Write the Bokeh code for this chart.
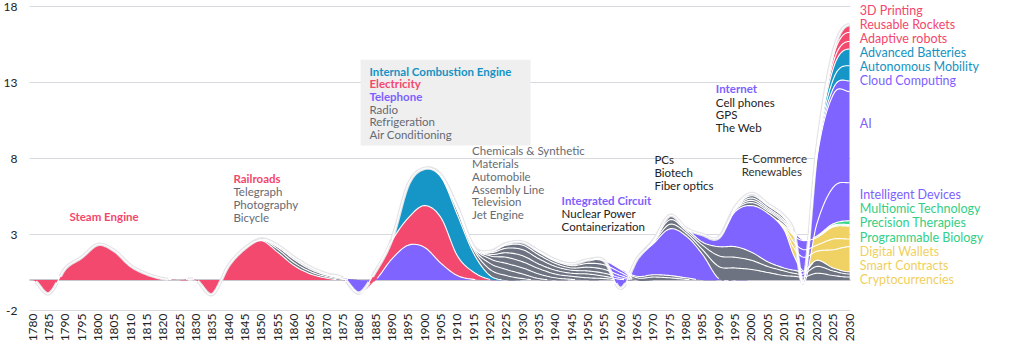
import math
import numpy as np
from bokeh.plotting import figure
from bokeh.models import Label, BoxAnnotation, Range1d
from bokeh.embed import file_html
from bokeh.resources import INLINE

# ---------------- data ----------------
YEARS = list(range(1780, 2011, 5)) + [2013, 2016, 2020, 2025, 2030]
X_TICKS = list(range(1780, 2031, 5))
Y_TICKS = [-2, 3, 8, 13, 18]

PINK, BLUE, PURPLE, GRAY, YELLOW, GREEN = "#f4496e", "#1596c7", "#8064ff", "#6e7382", "#f0d264", "#3cd78c"

steam_engine = {1785: -0.9, 1790: 0.76, 1795: 1.5, 1800: 2.34, 1805: 1.95, 1810: 0.96, 1815: 0.41, 1820: 0.1}
railroads = {1835: -0.95, 1840: 0.96, 1845: 2.1, 1850: 2.6, 1855: 1.84, 1860: 0.96, 1865: 0.41, 1870: 0.13}
telegraph = {1850: .05, 1855: .2, 1860: .2, 1865: .15, 1870: .1, 1875: .05}
photography = {1850: .03, 1855: .14, 1860: .2, 1865: .15, 1870: .1, 1875: .05}
bicycle = {1850: .02, 1855: .1, 1860: .14, 1865: .14, 1870: .08, 1875: .03}
telephone = {1880: -0.85, 1890: 1.4, 1895: 2.3, 1900: 2.15, 1905: 1.1, 1910: 0.3, 1915: 0.05}
electricity = {1885: 0.6, 1890: 1.2, 1895: 1.8, 1900: 2.75, 1905: 3.0, 1910: 1.3, 1915: 0.47, 1920: 0.05}
combustion_engine = {1890: 0.1, 1895: 2.2, 1900: 2.45, 1905: 2.7, 1910: 2.7, 1915: 1.23, 1920: 0.25}
radio = {1905: .05, 1910: .3, 1915: .25, 1920: .4, 1925: .3, 1930: .1}
refrigeration = {1905: .05, 1910: .15, 1915: .1, 1920: .4, 1925: .4, 1930: .3, 1935: .1}
air_conditioning = {1910: .05, 1915: .1, 1920: .3, 1925: .4, 1930: .4, 1935: .3, 1940: .15, 1945: .05}
chemicals = {1920: .2, 1925: .4, 1930: .4, 1935: .35, 1940: .25, 1945: .2, 1950: .15, 1955: .1}
materials = {1920: .1, 1925: .3, 1930: .4, 1935: .3, 1940: .25, 1945: .2, 1950: .25, 1955: .15, 1960: .05}
automobile = {1920: .1, 1925: .3, 1930: .4, 1935: .35, 1940: .25, 1945: .2, 1950: .2, 1955: .2, 1960: .1}
assembly_line = {1920: .1, 1925: .2, 1930: .3, 1935: .25, 1940: .2, 1945: .15, 1950: .25, 1955: .25, 1960: .15}
television = {1925: .1, 1930: .2, 1935: .2, 1940: .15, 1945: .15, 1950: .25, 1955: .3, 1960: .2}
jet_engine = {1935: .05, 1940: .08, 1945: .12, 1950: .23, 1955: .27, 1960: .2}
nuclear_power = {1965: .15, 1970: .2, 1975: .15, 1980: .05}
containerization = {1965: .1, 1970: .15, 1975: .15, 1980: .1}
integrated_circuit = {1960: -1.25, 1965: 1.15, 1970: 2.05, 1975: 3.07, 1980: 2.75, 1985: 1.7, 1990: 0.1}
pcs = {1970: .08, 1975: .3, 1980: .2, 1985: .3, 1990: .8, 1995: .8, 2000: .7, 2005: .5, 2010: .3, 2013: .25, 2016: .2, 2020: .45, 2025: .3, 2030: .2}
biotech = {1970: .07, 1975: .3, 1980: .15, 1985: .3, 1990: .7, 1995: .7, 2000: .6, 2005: .4, 2010: .3, 2013: .2, 2016: .2, 2020: .45, 2025: .3, 2030: .2}
fiber_optics = {1970: .05, 1975: .28, 1980: .15, 1985: .2, 1990: .6, 1995: .7, 2000: .54, 2005: .3, 2010: .2, 2013: .2, 2016: .2, 2020: .4, 2025: .2, 2030: .15}
internet = {1985: 0.5, 1990: 0.6, 1995: 2.3, 2000: 3.06, 2005: 3.2, 2010: 2.5, 2013: 0.95}
cryptocurrencies = {2010: .1, 2013: .5, 2016: .9, 2020: .6, 2025: 1.2, 2030: 1.65}
smart_contracts = {2010: .1, 2013: .4, 2016: .5, 2020: .4, 2025: .7, 2030: .5}
digital_wallets = {2010: .1, 2013: .4, 2016: .6, 2020: .5, 2025: .8, 2030: .85}
programmable_biology = {2020: .02, 2025: .05, 2030: .05}
precision_therapies = {2020: .03, 2025: .05, 2030: .05}
multiomic_technology = {2020: .05, 2025: .1, 2030: .25}
cell_phones = {1995: .1, 2000: .2, 2005: .15, 2010: .15, 2013: .05}
gps = {1995: .05, 2000: .15, 2005: .1, 2010: .1, 2013: .05}
the_web = {1995: .05, 2000: .15, 2005: .1, 2010: .1, 2013: .05}
e_commerce = {1995: .05, 2000: .15, 2005: .15, 2010: .15, 2013: .05}
renewables = {1995: .05, 2000: .15, 2005: .1, 2010: .1, 2013: .05}
intelligent_devices = {2016: -2.8, 2020: 0.8, 2025: 2.4, 2030: 2.5}
ai = {2020: 4.3, 2025: 6.1, 2030: 6.0}
cloud_computing = {2020: .2, 2025: .4, 2030: .7}
autonomous_mobility = {2016: .05, 2020: .1, 2025: .6, 2030: 1.0}
advanced_batteries = {2016: .1, 2020: .1, 2025: .7, 2030: 1.1}
adaptive_robots = {2020: .1, 2025: .4, 2030: .5}
reusable_rockets = {2020: .05, 2025: .4, 2030: .6}
printing_3d = {2020: .05, 2025: .3, 2030: .5}

# stacking order, bottom to top
STACK = [
    (steam_engine, PINK), (railroads, PINK), (telegraph, GRAY), (photography, GRAY), (bicycle, GRAY),
    (telephone, PURPLE), (electricity, PINK), (combustion_engine, BLUE),
    (radio, GRAY), (refrigeration, GRAY), (air_conditioning, GRAY),
    (chemicals, GRAY), (materials, GRAY), (automobile, GRAY), (assembly_line, GRAY), (television, GRAY), (jet_engine, GRAY),
    (nuclear_power, GRAY), (containerization, GRAY), (integrated_circuit, PURPLE),
    (pcs, GRAY), (biotech, GRAY), (fiber_optics, GRAY), (internet, PURPLE),
    (cryptocurrencies, YELLOW), (smart_contracts, YELLOW), (digital_wallets, YELLOW),
    (programmable_biology, GREEN), (precision_therapies, GREEN), (multiomic_technology, GREEN),
    (cell_phones, GRAY), (gps, GRAY), (the_web, GRAY), (e_commerce, GRAY), (renewables, GRAY),
    (intelligent_devices, PURPLE), (ai, PURPLE), (cloud_computing, PURPLE),
    (autonomous_mobility, BLUE), (advanced_batteries, BLUE),
    (adaptive_robots, PINK), (reusable_rockets, PINK), (printing_3d, PINK),
]

# right-hand labels (top to bottom) with colours
RIGHT_LABELS = [
    ("3D Printing", "#f4476c", 17.75), ("Reusable Rockets", "#f4476c", 16.83), ("Adaptive robots", "#f4476c", 15.9),
    ("Advanced Batteries", "#1593c4", 14.97), ("Autonomous Mobility", "#1593c4", 14.03),
    ("Cloud Computing", "#7d5fff", 13.1), ("AI", "#7d5fff", 10.3), ("Intelligent Devices", "#7d5fff", 5.62),
    ("Multiomic Technology", "#33cf86", 4.69), ("Precision Therapies", "#33cf86", 3.76), ("Programmable Biology", "#33cf86", 2.83),
    ("Digital Wallets", "#f0cf5e", 1.9), ("Smart Contracts", "#f0cf5e", 0.97), ("Cryptocurrencies", "#f0cf5e", 0.04),
]

# ---------------- helpers ----------------
def smooth(xg, yg, n=10):
    xg = np.asarray(xg, float); yg = np.asarray(yg, float)
    N = len(xg)
    m = np.zeros(N)
    for i in range(1, N - 1):
        m[i] = (yg[i + 1] - yg[i - 1]) / (xg[i + 1] - xg[i - 1])
    t = np.linspace(0, 1, n, endpoint=False)
    h00 = 2 * t**3 - 3 * t**2 + 1; h10 = t**3 - 2 * t**2 + t
    h01 = -2 * t**3 + 3 * t**2; h11 = t**3 - t**2
    xs, ys = [], []
    for i in range(N - 1):
        h = xg[i + 1] - xg[i]
        xs.append(xg[i] + t * h)
        ys.append(h00 * yg[i] + h10 * h * m[i] + h01 * yg[i + 1] + h11 * h * m[i + 1])
    xs.append([xg[-1]]); ys.append([yg[-1]])
    return np.concatenate(xs), np.concatenate(ys)

vals = np.array([[d.get(y, 0.0) for y in YEARS] for d, _ in STACK])
cum = np.vstack([np.zeros(len(YEARS)), np.cumsum(vals, axis=0)])
smooth_cum = []
for row in cum:
    sx, sy = smooth(YEARS, row)
    smooth_cum.append(sy)
SX = sx

# ---------------- figure ----------------
FONT = "Lato"
PX_PER_YEAR = 3.268
PX_PER_UNIT = 15.2
X0 = 1780 - 32 / PX_PER_YEAR
X1 = X0 + 1024 / PX_PER_YEAR
Y1 = 279.6 / PX_PER_UNIT            # value at the top edge of the page
Y0 = Y1 - 346 / PX_PER_UNIT         # value at the bottom edge of the page
GRID_START = 1780 - 3 / PX_PER_YEAR
p = figure(width=1024, height=346, x_range=Range1d(X0, X1), y_range=Range1d(Y0, Y1),
           output_backend="svg", toolbar_location=None, min_border=0)
p.outline_line_color = None
p.background_fill_color = "white"
p.border_fill_color = "white"
p.xgrid.grid_line_color = None
p.ygrid.grid_line_color = None
p.xaxis.visible = False
p.yaxis.visible = False

# horizontal grid lines, y tick labels and baseline
for yt in Y_TICKS:
    p.line([GRID_START, 2030.3], [yt, yt], line_color="#d9d9e0", line_width=1.2)
    p.add_layout(Label(x=1780 - 15 / PX_PER_YEAR, y=yt, text=str(yt), text_align="right", text_baseline="middle",
                       text_font=FONT, text_font_size="12px", text_color="#222222"))
p.line([GRID_START, 2030.3], [0, 0], line_color="#b4b4c0", line_width=1.5)

# x tick labels (vertical, reading upwards)
for xt in X_TICKS:
    p.add_layout(Label(x=xt, y=-2 - 3 / PX_PER_UNIT, text=str(xt), angle=math.pi / 2, text_align="right",
                       text_baseline="middle", text_font=FONT, text_font_size="12px", text_color="#222222"))

# areas
for i, (d, color) in enumerate(STACK):
    p.varea(x=SX, y1=smooth_cum[i], y2=smooth_cum[i + 1], fill_color=color)

# outer silhouette halo
top = smooth_cum[-1]
halo = np.where(np.abs(top) > 0.05, top, np.nan)
p.line(SX, halo, line_color="#e4e4e8", line_width=3.5)

# white separators
for i, (d, color) in enumerate(STACK):
    thick = smooth_cum[i + 1] - smooth_cum[i]
    yl = np.where(np.abs(thick) > 0.03, smooth_cum[i + 1], np.nan)
    p.line(SX, yl, line_color="white", line_width=1.1)

# ---------------- annotations ----------------
def lab(x, y, text, color, bold=False, size="11.5px"):
    p.add_layout(Label(x=x, y=y, text=text, text_color=color, text_font=FONT, text_font_size=size,
                       text_font_style="bold" if bold else "normal", text_baseline="middle", text_align="left"))

DARK, MID = "#222222", "#666a72"
lab(1791.3, 4.18, "Steam Engine", "#f4476c", True)
lab(1841.5, 6.68, "Railroads", "#f4476c", True)
for y, t in zip([5.83, 4.97, 4.12], ["Telegraph", "Photography", "Bicycle"]):
    lab(1841.5, y, t, MID)

p.add_layout(BoxAnnotation(left=1880.4, right=1932.4, bottom=8.86, top=14.49, fill_color="#efeff0", fill_alpha=1, line_color=None))
lab(1883.1, 13.74, "Internal Combustion Engine", "#1593c4", True)
lab(1883.1, 12.91, "Electricity", "#f4476c", True)
lab(1883.1, 12.08, "Telephone", "#7d5fff", True)
for y, t in zip([11.24, 10.41, 9.58], ["Radio", "Refrigeration", "Air Conditioning"]):
    lab(1883.1, y, t, MID)

for y, t in zip([8.53, 7.65, 6.82, 5.98, 5.15, 4.32],
                ["Chemicals & Synthetic", "Materials", "Automobile", "Assembly Line", "Television", "Jet Engine"]):
    lab(1914.5, y, t, MID)

lab(1941.9, 5.24, "Integrated Circuit", "#7d5fff", True)
lab(1941.9, 4.38, "Nuclear Power", DARK)
lab(1941.9, 3.53, "Containerization", DARK)

for y, t in zip([7.93, 7.08, 6.22], ["PCs", "Biotech", "Fiber optics"]):
    lab(1970.3, y, t, DARK)

lab(1989.1, 12.59, "Internet", "#7d5fff", True)
for y, t in zip([11.70, 10.89, 10.06], ["Cell phones", "GPS", "The Web"]):
    lab(1989.1, y, t, DARK)

lab(1997.0, 8.0, "E-Commerce", "#333333")
lab(1997.0, 7.16, "Renewables", "#333333")

for t, c, y in RIGHT_LABELS:
    lab(2033.15, y, t, c, size="12.5px")

open("out.html", "w").write(file_html(p, INLINE))
